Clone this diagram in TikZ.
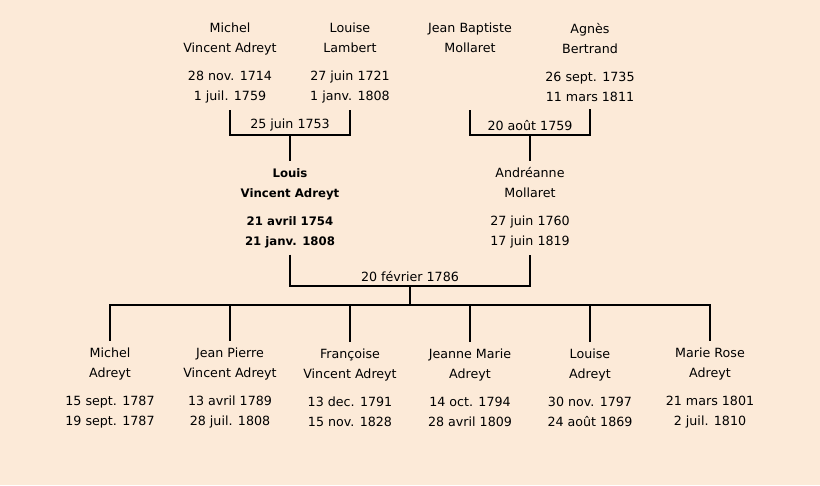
\documentclass[tikz,border=0pt]{standalone}
\usepackage{fontspec}
\setmainfont{DejaVu Sans}
\definecolor{parchment}{RGB}{252,234,216}

\begin{document}
\begin{tikzpicture}[x=0.75pt,y=-0.75pt,
   every node/.style={font=\fontsize{9.5}{15}\selectfont},
   person/.style={align=center,inner xsep=2pt,inner ysep=5pt},
   lead/.style={person,font=\fontsize{8.8}{15}\selectfont\bfseries},
   wed/.style={above,inner sep=3pt},
   link/.style={line width=1.5pt}]
\fill[parchment] (0,0) rectangle (820,485);
% grandparents
\node[person] (michel) at (230,63) {Michel\\Vincent Adreyt\\[6pt]28 nov. 1714\\1 juil. 1759};
\node[person] (louise) at (350,63) {Louise\\Lambert\\[6pt]27 juin 1721\\1 janv. 1808};
\node[person] (jean) at (470,63) {Jean Baptiste\\Mollaret\\[6pt]\phantom{28 nov. 1714}\\\phantom{1 juil. 1759}};
\node[person] (agnes) at (590,63) {Agn\`es\\Bertrand\\[6pt]26 sept. 1735\\11 mars 1811};
% parents
\node[lead] (louis) at (290,208) {Louis\\Vincent Adreyt\\[6pt]21 avril 1754\\21 janv. 1808};
\node[person] (andreanne) at (530,208) {Andr\'eanne\\Mollaret\\[6pt]27 juin 1760\\17 juin 1819};
% children
\node[person] (c1) at (110,388) {Michel\\Adreyt\\[6pt]15 sept. 1787\\19 sept. 1787};
\node[person] (c2) at (230,388) {Jean Pierre\\Vincent Adreyt\\[6pt]13 avril 1789\\28 juil. 1808};
\node[person] (c3) at (350,388) {Fran\c{c}oise\\Vincent Adreyt\\[6pt]13 dec. 1791\\15 nov. 1828};
\node[person] (c4) at (470,388) {Jeanne Marie\\Adreyt\\[6pt]14 oct. 1794\\28 avril 1809};
\node[person] (c5) at (590,388) {Louise\\Adreyt\\[6pt]30 nov. 1797\\24 ao\^ut 1869};
\node[person] (c6) at (710,388) {Marie Rose\\Adreyt\\[6pt]21 mars 1801\\2 juil. 1810};
% marriages
\coordinate (m1) at (290,135);
\coordinate (m2) at (530,135);
\coordinate (m3) at (410,286);
\coordinate (kids) at (410,305);
\draw[link] (michel.south) |- (m1) -| (louise.south);
\draw[link] (jean.south) |- (m2) -| (agnes.south);
\draw[link] (louis.south) |- (m3) -| (andreanne.south);
\draw[link] (m1) -- (m1 |- louis.north);
\draw[link] (m2) -- (m2 |- andreanne.north);
\draw[link] (m3) -- (kids);
\node[wed] (w1) at (m1) {25 juin 1753};
\node[wed] (w2) at (m2) {20 ao\^ut 1759};
\node[wed] (w3) at (m3) {20 f\'evrier 1786};
\draw[link] (c1.north) |- (kids) -| (c6.north);
\foreach \k in {c2,c3,c4,c5}
  \draw[link] (\k.north) -- (\k.north |- kids);
\end{tikzpicture}
\end{document}
